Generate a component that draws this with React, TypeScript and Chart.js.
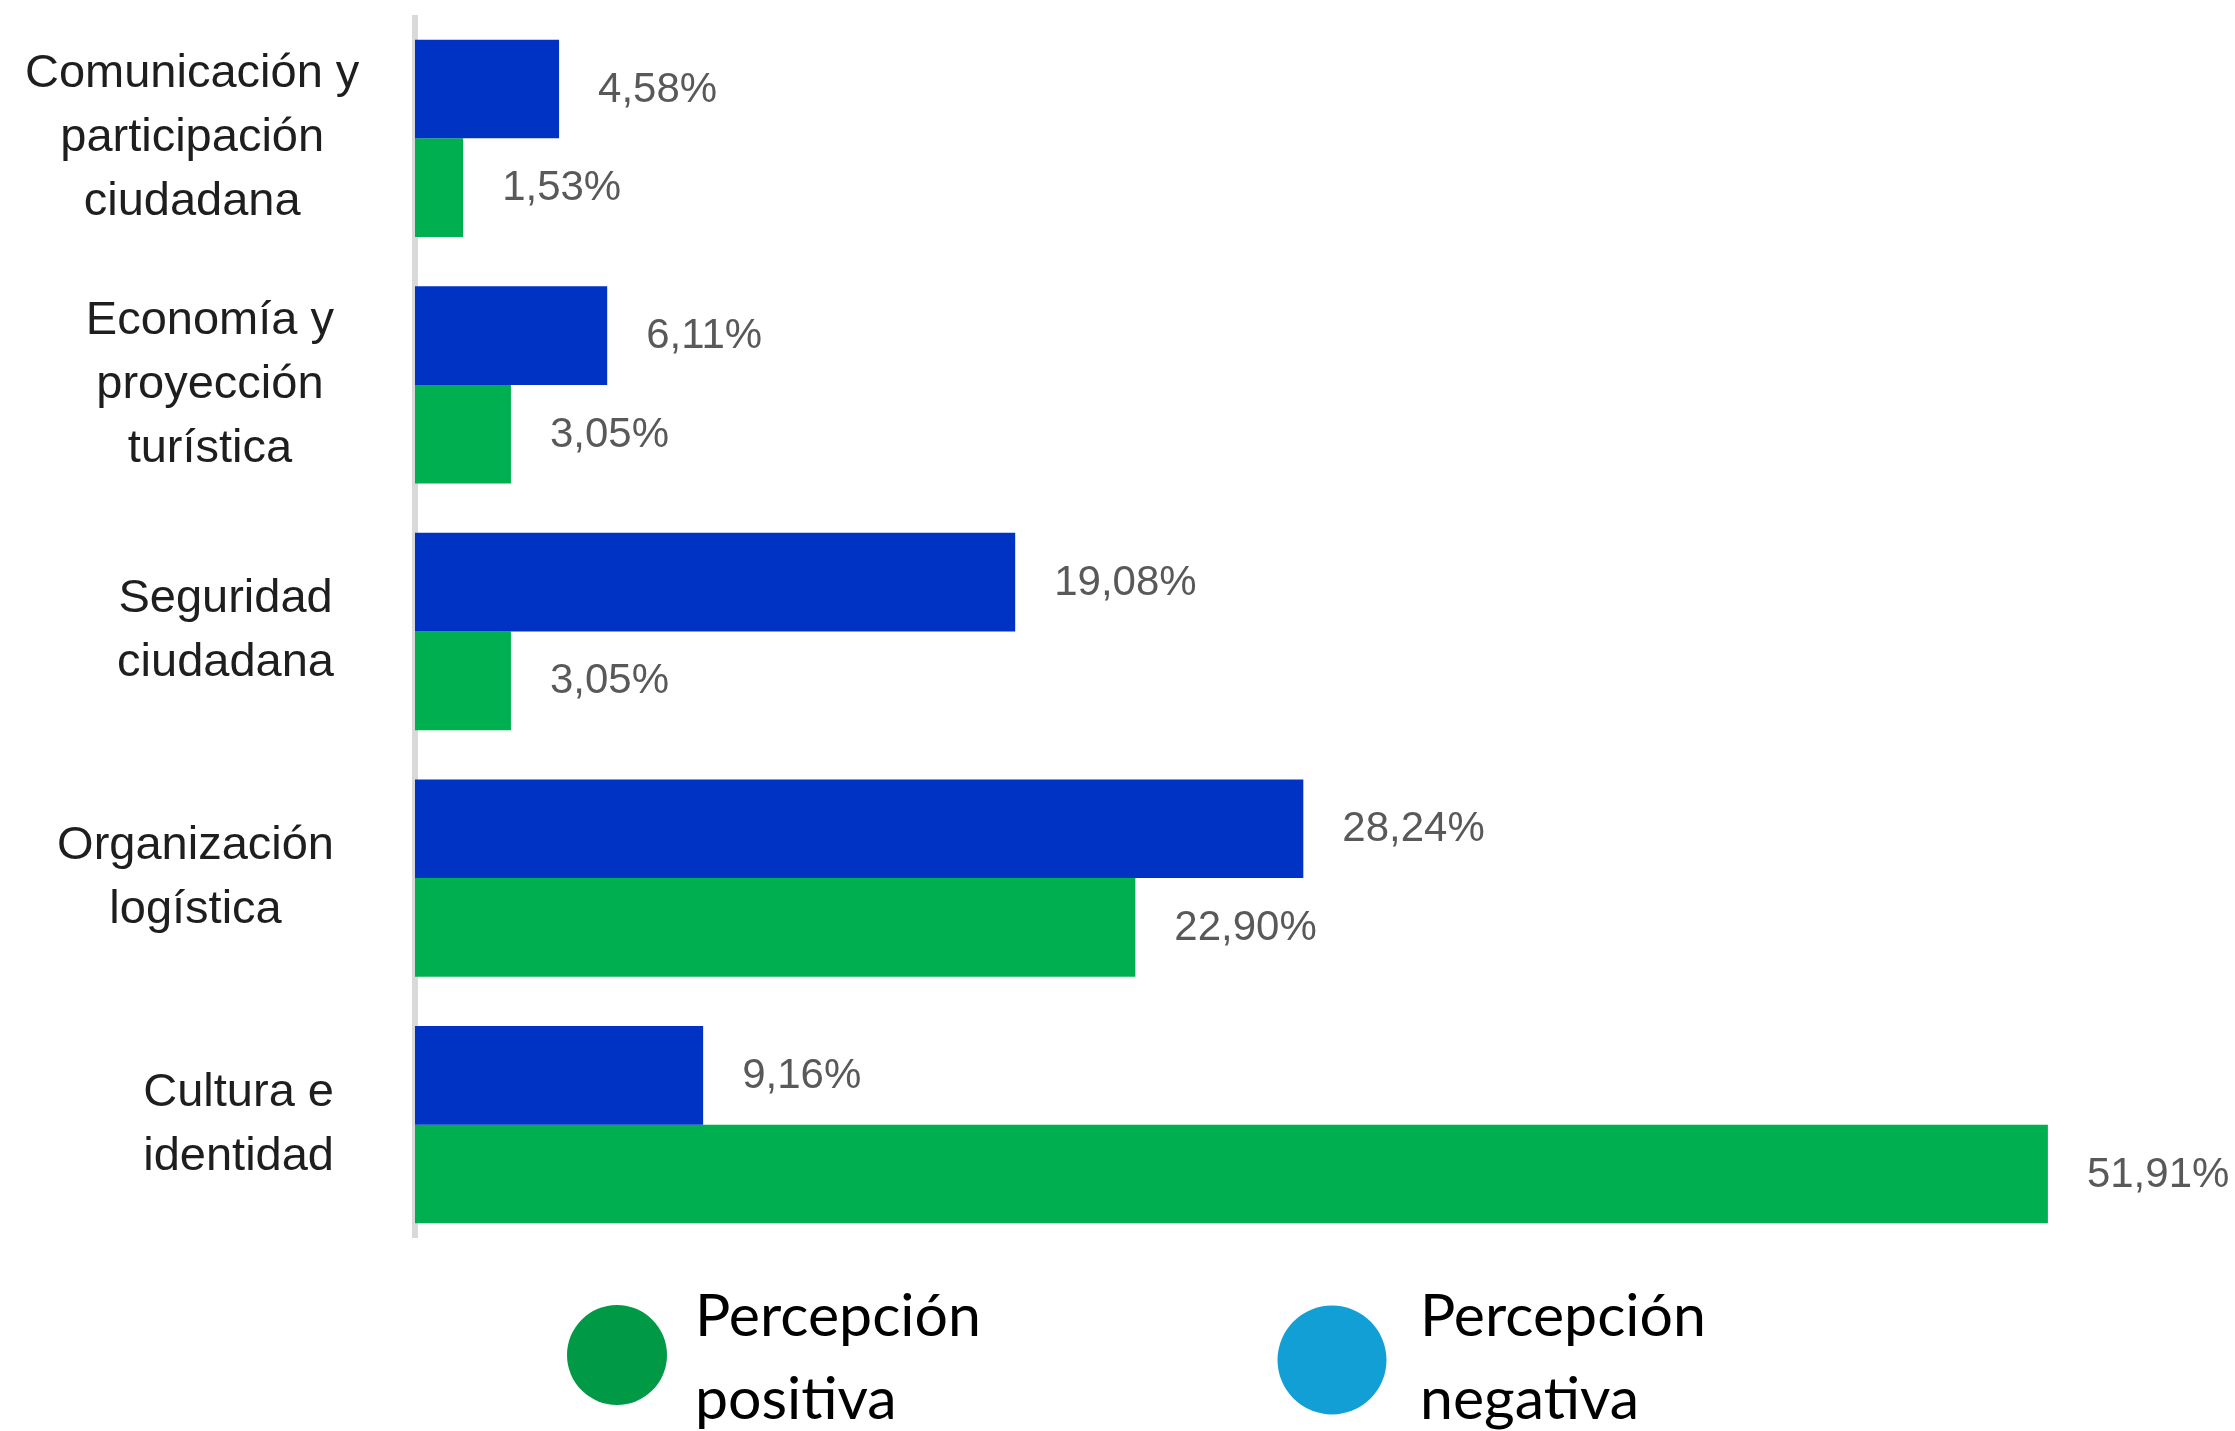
import React, { useEffect, useRef } from "react";
import { Chart, registerables } from "chart.js";

Chart.register(...registerables);

const categories: string[][] = [
  ["Comunicación y", "participación", "ciudadana"],
  ["Economía y", "proyección", "turística"],
  ["Seguridad", "ciudadana"],
  ["Organización", "logística"],
  ["Cultura e", "identidad"],
];

const negativa: number[] = [4.58, 6.11, 19.08, 28.24, 9.16];
const positiva: number[] = [1.53, 3.05, 3.05, 22.9, 51.91];

const seriesLabels: string[][] = [
  ["Percepción", "negativa"],
  ["Percepción", "positiva"],
];
const barColors: string[] = ["#0032C4", "#00AF50"];
const legendColors: string[] = ["#119FD6", "#009946"];

const X_MAX = 57;

const fmt = (v: number) => v.toFixed(2).replace(".", ",") + "%";

const axisLinePlugin = {
  id: "axisLine",
  beforeDatasetsDraw(chart: any) {
    const ctx = chart.ctx as CanvasRenderingContext2D;
    const a = chart.chartArea;
    ctx.save();
    ctx.fillStyle = "#D9D9D9";
    ctx.fillRect(a.left - 3, a.top, 6, a.bottom - a.top - 10);
    ctx.restore();
  },
};

const labelPlugin = {
  id: "customLabels",
  afterDraw(chart: any) {
    const ctx = chart.ctx as CanvasRenderingContext2D;
    const yScale = chart.scales.y;
    // category labels
    ctx.save();
    ctx.font = '47px "Liberation Sans", Arial, sans-serif';
    ctx.fillStyle = "#1e1e1e";
    ctx.textAlign = "center";
    ctx.textBaseline = "middle";
    const rightEdge = 334;
    const leftMin = 25;
    const lh = 64;
    categories.forEach((lines, i) => {
      const cy = yScale.getPixelForValue(i);
      const w = Math.max(...lines.map((l) => ctx.measureText(l).width));
      let cx = rightEdge - w / 2;
      if (cx - w / 2 < leftMin) cx = leftMin + w / 2;
      lines.forEach((l, j) => {
        ctx.fillText(l, cx, cy + (j - (lines.length - 1) / 2) * lh);
      });
    });
    ctx.restore();

    // data labels
    ctx.save();
    ctx.font = '42px "Liberation Sans", Arial, sans-serif';
    ctx.fillStyle = "#595959";
    ctx.textAlign = "left";
    ctx.textBaseline = "middle";
    chart.data.datasets.forEach((ds: any, di: number) => {
      const meta = chart.getDatasetMeta(di);
      meta.data.forEach((bar: any, i: number) => {
        ctx.fillText(fmt(ds.data[i]), bar.x + 39, bar.y + 1);
      });
    });
    ctx.restore();

    // legend (positiva first, then negativa)
    ctx.save();
    ctx.font = '400 59px Lato, "Open Sans", sans-serif';
    ctx.textAlign = "left";
    ctx.textBaseline = "alphabetic";
    const items = [
      { idx: 1, cx: 617, cy: 1355, r: 50, tx: 695 },
      { idx: 0, cx: 1332, cy: 1360, r: 54.5, tx: 1420 },
    ];
    items.forEach((it) => {
      ctx.fillStyle = legendColors[it.idx];
      ctx.beginPath();
      ctx.arc(it.cx, it.cy, it.r, 0, Math.PI * 2);
      ctx.fill();
      ctx.fillStyle = "#000000";
      ctx.fillText(seriesLabels[it.idx][0], it.tx, 1336);
      ctx.fillText(seriesLabels[it.idx][1], it.tx, 1419);
    });
    ctx.restore();
  },
};

export default function App() {
  const ref = useRef<HTMLCanvasElement | null>(null);
  useEffect(() => {
    if (!ref.current) return;
    const chart = new Chart(ref.current, {
      type: "bar",
      data: {
        labels: categories.map((c) => c.join(" ")),
        datasets: [
          {
            label: seriesLabels[0].join(" "),
            data: negativa,
            backgroundColor: barColors[0],
            categoryPercentage: 0.8,
            barPercentage: 1,
          },
          {
            label: seriesLabels[1].join(" "),
            data: positiva,
            backgroundColor: barColors[1],
            categoryPercentage: 0.8,
            barPercentage: 1,
          },
        ],
      },
      options: {
        indexAxis: "y",
        responsive: false,
        animation: false,
        layout: { padding: { top: 15, bottom: 183, left: 0, right: 27 } },
        plugins: {
          legend: { display: false },
          tooltip: { enabled: false },
          title: { display: false },
        },
        scales: {
          x: {
            display: false,
            min: 0,
            max: X_MAX,
          },
          y: {
            grid: { display: false, drawTicks: false },
            border: { display: false },
            ticks: { display: false },
            afterFit: (scale: any) => {
              scale.width = 415;
            },
          },
        },
      },
      plugins: [axisLinePlugin, labelPlugin],
    });
    return () => chart.destroy();
  }, []);
  return (
    <div style={{ position: "fixed", left: 0, top: 0, width: 2235, height: 1431, background: "#fff" }}>
      <canvas ref={ref} width={2235} height={1431} style={{ width: 2235, height: 1431 }} />
    </div>
  );
}
